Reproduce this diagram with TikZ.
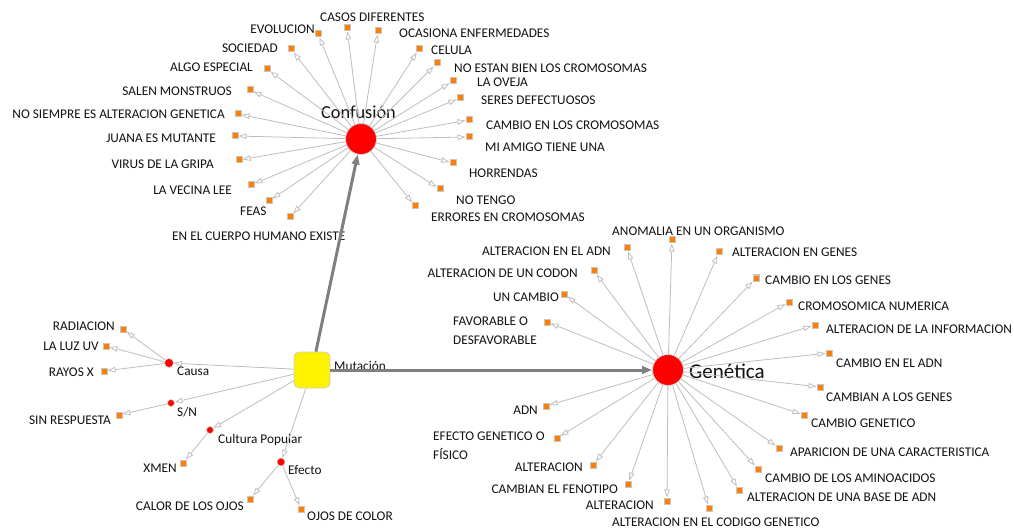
\documentclass[tikz,border=0pt]{standalone}
\usepackage{fontspec}
\setmainfont{Carlito}
\usetikzlibrary{arrows.meta}
\definecolor{leaforange}{HTML}{FF8000}
\definecolor{edgegray}{HTML}{BEBEBE}
\definecolor{maingray}{HTML}{7F7F7F}
\definecolor{txt}{HTML}{111111}
\tikzset{
  leaf/.style={rectangle, fill=leaforange, draw=gray!45, line width=1pt, minimum size=6pt, inner sep=0pt},
  hub/.style={circle, fill=red, draw=gray!35, line width=0.8pt, minimum size=31pt, inner sep=0pt},
  sub/.style={circle, fill=red, draw=gray!35, line width=0.6pt, inner sep=0pt},
  lbl/.style={font=\fontsize{13.3}{19}\selectfont, text=txt, inner sep=0pt, text height=8.6pt, text depth=0pt},
  mlbl/.style={font=\fontsize{13.3}{19}\selectfont, text=txt, inner sep=0pt, align=left},
  slbl/.style={font=\fontsize{13.3}{16}\selectfont, text=txt, inner sep=0pt, anchor=base west},
  edge/.style={draw=edgegray, line width=0.8pt, -{Triangle[length=8pt,width=5.5pt,fill=white]}},
  mainedge/.style={draw=maingray, line width=3pt, -{Triangle[length=10pt,width=7.5pt,fill=maingray!85]}},
}
\begin{document}
\begin{tikzpicture}[x=1pt,y=-1pt]
\fill[white] (0,0) rectangle (1014,529);
\useasboundingbox (0,0) rectangle (1014,529);

% ---- hubs ----
\node[hub] (conf) at (361,139) {};
\node[font=\fontsize{18.3}{22}\selectfont, text=txt, inner sep=0pt, anchor=base] (confl) at (358.5,119) {Confusión};
\node[hub] (gen) at (668,370) {};
\node[font=\fontsize{21}{25}\selectfont, text=txt, inner sep=0pt, anchor=base west] (genl) at (689,378) {Genética};
\node[rectangle, rounded corners=5pt, fill=yellow, draw=gray!40, line width=0.8pt, minimum size=36pt, inner sep=0pt] (mut) at (312,370) {};
\node[slbl] (mutl) at (334,370) {Mutación};

% ---- Confusión leaves ----
\node[leaf] (c1) at (318,34) {};   \node[lbl, anchor=east] (tc1) at (315,29) {EVOLUCION};
\node[leaf] (c2) at (347,28) {};   \node[lbl, anchor=west] (tc2) at (320,17) {CASOS DIFERENTES};
\node[leaf] (c3) at (378,31) {};   \node[lbl, anchor=west] (tc3) at (399,33) {OCASIONA ENFERMEDADES};
\node[leaf] (c4) at (419,49) {};   \node[lbl, anchor=west] (tc4) at (431,50) {CELULA};
\node[leaf] (c5) at (437,63) {};   \node[lbl, anchor=west] (tc5) at (454,68) {NO ESTAN BIEN LOS CROMOSOMAS};
\node[leaf] (c6) at (453,81) {};   \node[lbl, anchor=west] (tc6) at (477,82) {LA OVEJA};
\node[leaf] (c7) at (460,98) {};   \node[lbl, anchor=west] (tc7) at (481,100) {SERES DEFECTUOSOS};
\node[leaf] (c8) at (469,120) {};  \node[lbl, anchor=west] (tc8) at (486,125) {CAMBIO EN LOS CROMOSOMAS};
\node[leaf] (c9) at (469,137) {};  \node[lbl, anchor=west] (tc9) at (485,147) {MI AMIGO TIENE UNA};
\node[leaf] (c10) at (453,163) {}; \node[lbl, anchor=west] (tc10) at (469,173) {HORRENDAS};
\node[leaf] (c11) at (440,189) {}; \node[lbl, anchor=west] (tc11) at (456,200) {NO TENGO};
\node[leaf] (c12) at (415,206) {}; \node[lbl, anchor=west] (tc12) at (431,217) {ERRORES EN CROMOSOMAS};
\node[leaf] (c13) at (290,217) {}; \node[lbl, anchor=west] (tc13) at (172,236) {EN EL CUERPO HUMANO EXISTE};
\node[leaf] (c14) at (269,201) {}; \node[lbl, anchor=west] (tc14) at (240,211) {FEAS};
\node[leaf] (c15) at (251,185) {}; \node[lbl, anchor=east] (tc15) at (232,190) {LA VECINA LEE};
\node[leaf] (c16) at (239,160) {}; \node[lbl, anchor=east] (tc16) at (214,164) {VIRUS DE LA GRIPA};
\node[leaf] (c17) at (235,136) {}; \node[lbl, anchor=east] (tc17) at (216,138) {JUANA ES MUTANTE};
\node[leaf] (c18) at (238,114) {}; \node[lbl, anchor=east] (tc18) at (225,114) {NO SIEMPRE ES ALTERACION GENETICA};
\node[leaf] (c19) at (250,90) {};  \node[lbl, anchor=east] (tc19) at (232,91) {SALEN MONSTRUOS};
\node[leaf] (c20) at (267,69) {};  \node[lbl, anchor=east] (tc20) at (253,67) {ALGO ESPECIAL};
\node[leaf] (c21) at (291,49) {};  \node[lbl, anchor=east] (tc21) at (278,48) {SOCIEDAD};
\foreach \i in {1,...,21} \draw[edge] (conf) -- (c\i);

% ---- Genética leaves ----
\node[leaf] (g1) at (672,240) {};  \node[lbl, anchor=west] (tg1) at (612,231) {ANOMALIA EN UN ORGANISMO};
\node[leaf] (g2) at (719,252) {};  \node[lbl, anchor=west] (tg2) at (732,252) {ALTERACION EN GENES};
\node[leaf] (g3) at (756,278) {};  \node[lbl, anchor=west] (tg3) at (765,280) {CAMBIO EN LOS GENES};
\node[leaf] (g4) at (789,302) {};  \node[lbl, anchor=west] (tg4) at (798,306) {CROMOSOMICA NUMERICA};
\node[leaf] (g5) at (815,325) {};  \node[lbl, anchor=west] (tg5) at (826,329) {ALTERACION DE LA INFORMACION};
\node[leaf] (g6) at (829,353) {};  \node[lbl, anchor=west] (tg6) at (836,363) {CAMBIO EN EL ADN};
\node[leaf] (g7) at (820,387) {};  \node[lbl, anchor=west] (tg7) at (826,397) {CAMBIAN A LOS GENES};
\node[leaf] (g8) at (804,415) {};  \node[lbl, anchor=west] (tg8) at (811,423) {CAMBIO GENETICO};
\node[leaf] (g9) at (779,448) {};  \node[lbl, anchor=west] (tg9) at (790,452) {APARICION DE UNA CARACTERISTICA};
\node[leaf] (g10) at (758,469) {}; \node[lbl, anchor=west] (tg10) at (765,478) {CAMBIO DE LOS AMINOACIDOS};
\node[leaf] (g11) at (739,490) {}; \node[lbl, anchor=west] (tg11) at (747,497) {ALTERACION DE UNA BASE DE ADN};
\node[leaf] (g12) at (709,508) {}; \node[lbl, anchor=west] (tg12) at (612,522) {ALTERACION EN EL CODIGO GENETICO};
\node[leaf] (g13) at (667,501) {}; \node[lbl, anchor=east] (tg13) at (654,505) {ALTERACION};
\node[leaf] (g14) at (628,484) {}; \node[lbl, anchor=east] (tg14) at (618,489) {CAMBIAN EL FENOTIPO};
\node[leaf] (g15) at (593,465) {}; \node[lbl, anchor=east] (tg15) at (583,467) {ALTERACION};
\node[leaf] (g16) at (557,438) {}; \node[mlbl, anchor=north west] (tg16) at (433,431.7) {EFECTO GENETICO O\\FÍSICO};
\node[leaf] (g17) at (546,406) {}; \node[lbl, anchor=east] (tg17) at (538,410) {ADN};
\node[leaf] (g18) at (547,322) {}; \node[mlbl, anchor=north west] (tg18) at (453,316.7) {FAVORABLE O\\DESFAVORABLE};
\node[leaf] (g19) at (564,294) {}; \node[lbl, anchor=east] (tg19) at (559,297) {UN CAMBIO};
\node[leaf] (g20) at (594,271) {}; \node[lbl, anchor=east] (tg20) at (578,273) {ALTERACION DE UN CODON};
\node[leaf] (g21) at (627,248) {}; \node[lbl, anchor=east] (tg21) at (611,251) {ALTERACION EN EL ADN};
\foreach \i in {1,...,21} \draw[edge] (gen) -- (g\i);

% ---- Mutación branches ----
\node[sub, minimum size=9pt] (causa) at (169,363) {};
\node[slbl] (causal) at (177,375) {Causa};
\node[sub, minimum size=7pt] (sn) at (171,403) {};
\node[slbl] (snl) at (177,416) {S/N};
\node[sub, minimum size=7pt] (cult) at (210,430) {};
\node[slbl] (cultl) at (218,443) {Cultura Popular};
\node[sub, minimum size=8pt] (efe) at (281,462) {};
\node[slbl] (efel) at (288,474) {Efecto};

\node[leaf] (m1) at (123,329) {}; \node[lbl, anchor=east] (tm1) at (115,326) {RADIACION};
\node[leaf] (m2) at (106,346) {}; \node[lbl, anchor=east] (tm2) at (99,346) {LA LUZ UV};
\node[leaf] (m3) at (104,371) {}; \node[lbl, anchor=east] (tm3) at (94,372) {RAYOS X};
\node[leaf] (m4) at (119,415) {}; \node[lbl, anchor=east] (tm4) at (111,420) {SIN RESPUESTA};
\node[leaf] (m5) at (183,463) {}; \node[lbl, anchor=east] (tm5) at (177,468) {XMEN};
\node[leaf] (m6) at (250,499) {}; \node[lbl, anchor=east] (tm6) at (244,506) {CALOR DE LOS OJOS};
\node[leaf] (m7) at (301,509) {}; \node[lbl, anchor=west] (tm7) at (307,516) {OJOS DE COLOR};

\draw[edge] (mut) -- (causa);
\draw[edge] (mut) -- (sn);
\draw[edge] (mut) -- (cult);
\draw[edge] (mut) -- (efe);
\draw[edge] (causa) -- (m1);
\draw[edge] (causa) -- (m2);
\draw[edge] (causa) -- (m3);
\draw[edge] (sn) -- (m4);
\draw[edge] (cult) -- (m5);
\draw[edge] (efe) -- (m6);
\draw[edge] (efe) -- (m7);

% ---- main links ----
\draw[mainedge] (mut) -- (conf);
\draw[mainedge] (mut) -- (gen);
\end{tikzpicture}
\end{document}
